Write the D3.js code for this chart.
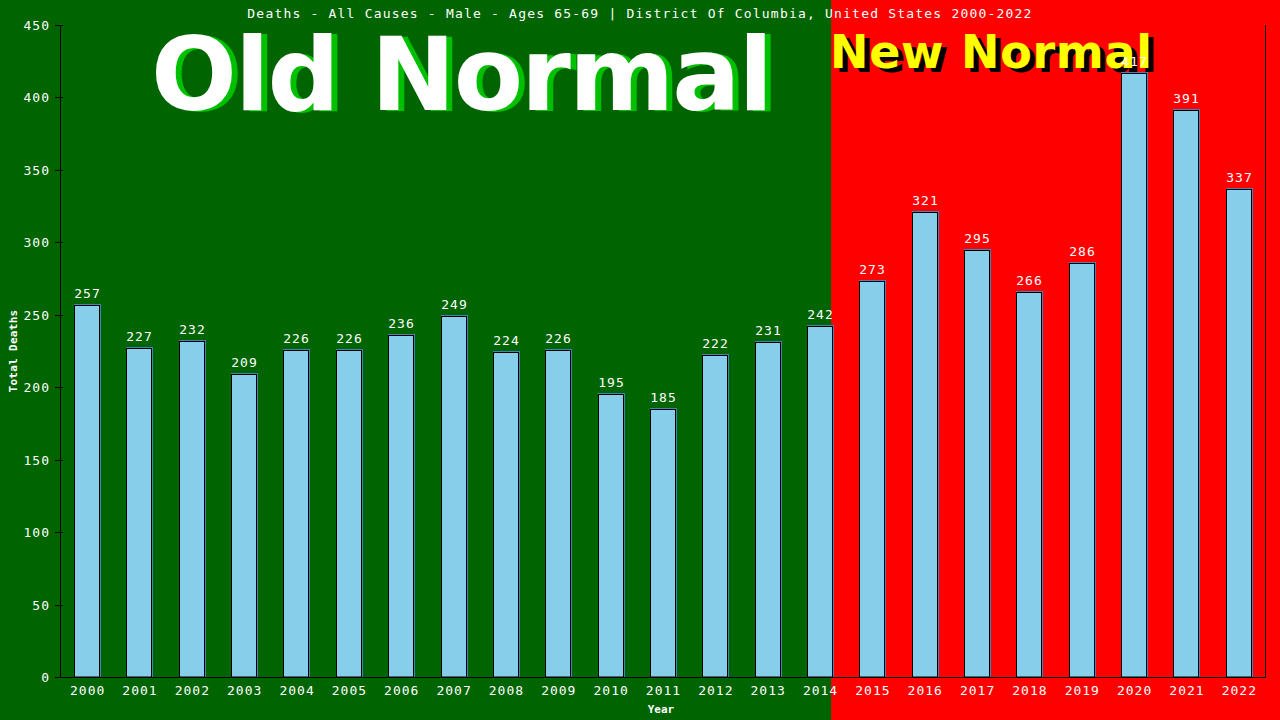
<!DOCTYPE html>
<html><head><meta charset="utf-8">
<script src="https://cdn.jsdelivr.net/npm/d3@7"></script>
<style>html,body{margin:0;padding:0;background:#006400;}svg{display:block;}</style>
</head><body>
<svg id="c" width="1280" height="720"></svg>
<script>
const years = ["2000","2001","2002","2003","2004","2005","2006","2007","2008","2009","2010","2011","2012","2013","2014","2015","2016","2017","2018","2019","2020","2021","2022"];
const deaths = [257,227,232,209,226,226,236,249,224,226,195,185,222,231,242,273,321,295,266,286,417,391,337];
const yTicks = [0,50,100,150,200,250,300,350,400,450];
const title = "Deaths - All Causes - Male - Ages 65-69 | District Of Columbia, United States 2000-2022";
const splitYear = "2014";

const svg = d3.select("#c");
const W = 1280, H = 720;
const m = {l:61, r:15, t:25, b:43};
const x = d3.scaleBand().domain(years).range([m.l, W - m.r]).paddingInner(0.5).paddingOuter(0.25);
const y = d3.scaleLinear().domain([0, 450]).range([H - m.b, m.t]);
const mono = "'DejaVu Sans Mono', monospace";

const splitX = x(splitYear) + x.bandwidth() - 2;
svg.append("rect").attr("x",0).attr("y",0).attr("width",splitX).attr("height",H).attr("fill","#006400");
svg.append("rect").attr("x",splitX).attr("y",0).attr("width",W-splitX).attr("height",H).attr("fill","#ff0000");

// big texts
const oldG = svg.append("g");
oldG.append("text").attr("x",468).attr("y",111).attr("text-anchor","middle")
  .attr("font-family","'DejaVu Sans', sans-serif").attr("font-weight","bold").attr("font-size",101)
  .attr("fill","#00c000").attr("textLength",622).text("Old Normal");
oldG.append("text").attr("x",462).attr("y",110).attr("text-anchor","middle")
  .attr("font-family","'DejaVu Sans', sans-serif").attr("font-weight","bold").attr("font-size",101)
  .attr("fill","#ffffff").attr("textLength",622).text("Old Normal");
const newG = svg.append("g");
newG.append("text").attr("x",835).attr("y",72)
  .attr("font-family","'DejaVu Sans', sans-serif").attr("font-weight","bold").attr("font-size",46)
  .attr("fill","#000000").attr("textLength",322).text("New Normal");
newG.append("text").attr("x",830).attr("y",68)
  .attr("font-family","'DejaVu Sans', sans-serif").attr("font-weight","bold").attr("font-size",46)
  .attr("fill","#ffff00").attr("textLength",322).text("New Normal");

// title
svg.append("text").attr("x",640).attr("y",18).attr("text-anchor","middle")
  .attr("font-family",mono).attr("font-size",13).attr("letter-spacing",1.2)
  .attr("fill","#fff").text(title);

// bars
const bars = svg.append("g");
years.forEach((yr,i)=>{
  const bx = Math.round(x(yr)), bw = Math.round(x.bandwidth());
  const by = Math.round(y(deaths[i]));
  bars.append("rect").attr("x",bx).attr("y",by-1).attr("width",bw+1).attr("height",y(0)-by+1).attr("fill","#4682b4");
  bars.append("rect").attr("x",bx+0.5).attr("y",by+0.5).attr("width",bw-1).attr("height",y(0)-by-0.5)
    .attr("fill","#87ceeb").attr("stroke","#000").attr("stroke-width",1);
  svg.append("text").attr("x",bx+bw/2+0.5).attr("y",by-7).attr("text-anchor","middle")
    .attr("font-family",mono).attr("font-size",13).attr("letter-spacing",1)
    .attr("fill","#fff").text(deaths[i]);
});

// axes
const ax = svg.append("g").attr("stroke","#000").attr("stroke-width",1);
ax.append("line").attr("x1",60.5).attr("x2",60.5).attr("y1",y(450)).attr("y2",y(0));
ax.append("line").attr("x1",1265.5).attr("x2",1265.5).attr("y1",y(450)).attr("y2",y(0));
ax.append("line").attr("x1",55).attr("x2",1266).attr("y1",Math.round(y(0))+0.5).attr("y2",Math.round(y(0))+0.5);
yTicks.forEach(t=>{
  const ty = Math.round(y(t))+0.5;
  ax.append("line").attr("x1",55).attr("x2",63).attr("y1",ty).attr("y2",ty);
  svg.append("text").attr("x",50).attr("y",ty).attr("dy","0.35em").attr("text-anchor","end")
    .attr("font-family",mono).attr("font-size",13).attr("letter-spacing",1)
    .attr("fill","#fff").text(t);
});
years.forEach(yr=>{
  svg.append("text").attr("x",x(yr)+x.bandwidth()/2+0.5).attr("y",695).attr("text-anchor","middle")
    .attr("font-family",mono).attr("font-size",13).attr("letter-spacing",1)
    .attr("fill","#fff").text(yr);
});
svg.append("text").attr("x",661).attr("y",713).attr("text-anchor","middle")
  .attr("font-family",mono).attr("font-weight","bold").attr("font-size",11)
  .attr("fill","#fff").text("Year");
svg.append("text").attr("transform","translate(17,351) rotate(-90)").attr("text-anchor","middle")
  .attr("font-family",mono).attr("font-weight","bold").attr("font-size",11).attr("letter-spacing",0.3)
  .attr("fill","#fff").text("Total Deaths");
</script>
</body></html>
